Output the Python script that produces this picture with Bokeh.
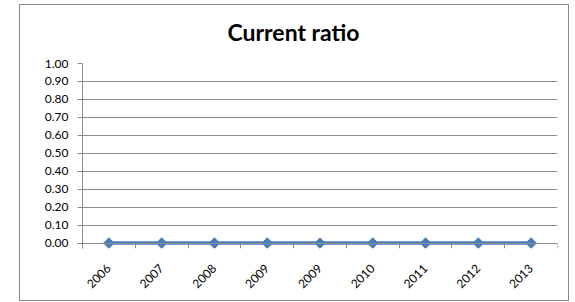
import math
from bokeh.plotting import figure
from bokeh.models import FixedTicker, Range1d, NumeralTickFormatter, LinearAxis, Title
from bokeh.embed import file_html
from bokeh.resources import INLINE

years = ["2006", "2007", "2008", "2009", "2009", "2010", "2011", "2012", "2013"]
current_ratio = [0, 0, 0, 0, 0, 0, 0, 0, 0]
y_ticks = [0.0, 0.1, 0.2, 0.3, 0.4, 0.5, 0.6, 0.7, 0.8, 0.9, 1.0]

FONT = "Lato"
GRID = "#8c8c8c"
BLUE = "#4a7ebb"

xs = [i + 0.5 for i in range(len(years))]

p = figure(width=550, height=297, output_backend="svg", toolbar_location=None,
           x_range=Range1d(0, len(years)), y_range=Range1d(-0.03, 1),
           min_border_left=62, min_border_right=13, min_border_top=58, min_border_bottom=54)
p.styles = {"border": "1.5px solid #8a8a8a", "margin-left": "19px", "margin-top": "4px"}
p.outline_line_color = None
p.background_fill_color = "white"
p.border_fill_color = "white"

p.title.text = "Current ratio"
p.title.text_font = FONT
p.title.text_font_style = "bold"
p.title.text_font_size = "23px"
p.title.text_color = "#000000"
p.title.align = "left"
p.title.offset = 145

# invisible spacer between the title and the plot area
spacer = Title(text=" ", text_font_size="1px")
p.add_layout(spacer, "above")

p.line(xs, current_ratio, line_color=BLUE, line_width=3.5)
p.scatter(xs, current_ratio, marker="square", angle=math.pi / 4, size=7.5,
          fill_color=BLUE, line_color=BLUE)

# x axis labels (below, at frame bottom)
p.xaxis.ticker = FixedTicker(ticks=xs)
p.xaxis.major_label_overrides = {x: y for x, y in zip(xs, years)}
p.xaxis.major_label_orientation = math.pi / 4
p.xaxis.major_tick_line_color = None
p.xaxis.minor_tick_line_color = None
p.xaxis.axis_line_color = None
p.xaxis.major_label_text_font = FONT
p.xaxis.major_label_text_font_size = "12px"
p.xaxis.major_label_text_color = "#000000"
p.xaxis.major_label_standoff = 12
p.xgrid.grid_line_color = None

# x axis line and ticks at y = 0
zero_axis = LinearAxis(fixed_location=0,
                       ticker=FixedTicker(ticks=[], minor_ticks=list(range(len(years) + 1))),
                       axis_line_color=GRID, major_tick_line_color=None,
                       minor_tick_line_color=GRID, minor_tick_in=0, minor_tick_out=5,
                       major_label_text_font_size="0px")
p.add_layout(zero_axis, "below")

# y axis
p.yaxis.ticker = FixedTicker(ticks=y_ticks)
p.yaxis.formatter = NumeralTickFormatter(format="0.00")
p.yaxis.major_tick_out = 5
p.yaxis.major_tick_in = 0
p.yaxis.minor_tick_line_color = None
p.yaxis.major_tick_line_color = GRID
p.yaxis.axis_line_color = GRID
p.yaxis.major_label_text_font = FONT
p.yaxis.major_label_text_font_size = "12px"
p.yaxis.major_label_text_color = "#000000"
p.yaxis.major_label_standoff = 9
p.ygrid.grid_line_color = GRID
p.ygrid.ticker = FixedTicker(ticks=y_ticks)

open("out.html", "w").write(file_html(p, INLINE))
